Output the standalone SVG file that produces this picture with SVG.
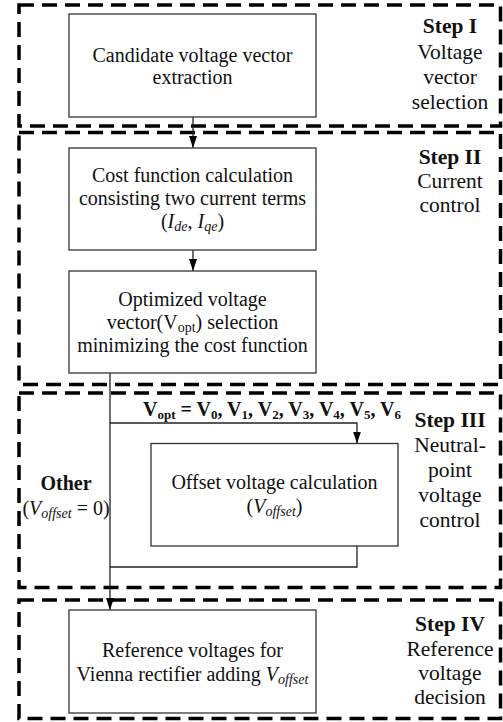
<svg xmlns="http://www.w3.org/2000/svg" width="503" height="722" viewBox="0 0 503 722">
<defs>
<style>
.step{fill:none;stroke:#000;stroke-width:3.5;stroke-dasharray:15 8}
.box{fill:#fff;stroke:#333;stroke-width:1.3}
.t{font-family:"Liberation Serif","Times New Roman",serif;font-size:20px;fill:#111;text-anchor:middle}
.lb{font-family:"Liberation Serif","Times New Roman",serif;font-size:21.5px;fill:#111;text-anchor:middle}
.b{font-weight:bold}
.i{font-style:italic}
.c{fill:none;stroke:#222;stroke-width:1.3}
</style>
<marker id="ah" viewBox="0 0 12 8" refX="12" refY="4" markerWidth="12" markerHeight="8" markerUnits="userSpaceOnUse" orient="auto">
<path d="M0,0 L12,4 L0,8 Z" fill="#000"/>
</marker>
</defs>

<g id="regions">
<rect id="step1" class="step" x="19" y="5" width="481.5" height="121"/>
<rect id="step2" class="step" x="19" y="132.5" width="481.5" height="252"/>
<rect id="step3" class="step" x="19" y="393" width="481.5" height="194.5"/>
<rect id="step4" class="step" x="19" y="600" width="481.5" height="118.5"/>
</g>

<g id="connectors">
<line class="c" x1="193" y1="117" x2="193" y2="148" marker-end="url(#ah)"/>
<line class="c" x1="193" y1="250" x2="193" y2="271" marker-end="url(#ah)"/>
<line class="c" x1="110" y1="373" x2="110" y2="610" marker-end="url(#ah)"/>
<polyline class="c" points="110,423 357,423 357,443.5" marker-end="url(#ah)"/>
<polyline class="c" points="357,546 357,567 110,567"/>
</g>

<g id="n1">
<rect class="box" x="69" y="14" width="247" height="103"/>
<text class="t" x="192.5" y="62">Candidate voltage vector</text>
<text class="t" x="192.5" y="84">extraction</text>
</g>

<g id="n2">
<rect class="box" x="69" y="148" width="247" height="102"/>
<text class="t" x="192.5" y="182">Cost function calculation</text>
<text class="t" x="192.5" y="205">consisting two current terms</text>
<text class="t" x="192.5" y="228">(<tspan class="i">I</tspan><tspan class="i" font-size="14" dy="3">de</tspan><tspan dy="-3">, </tspan><tspan class="i">I</tspan><tspan class="i" font-size="14" dy="3">qe</tspan><tspan dy="-3">)</tspan></text>
</g>

<g id="n3">
<rect class="box" x="69" y="271" width="247" height="102"/>
<text class="t" x="192.5" y="306">Optimized voltage</text>
<text class="t" x="192.5" y="329">vector(V<tspan font-size="14" dy="3">opt</tspan><tspan dy="-3">) selection</tspan></text>
<text class="t" x="192.5" y="352">minimizing the cost function</text>
</g>

<g id="n4">
<rect class="box" x="151" y="443.5" width="247" height="102.5"/>
<text class="t" x="274.5" y="489">Offset voltage calculation</text>
<text class="t" x="274.5" y="513">(<tspan class="i">V</tspan><tspan class="i" font-size="14" dy="3">offset</tspan><tspan dy="-3">)</tspan></text>
</g>

<g id="n5">
<rect class="box" x="69" y="610" width="247" height="103"/>
<text class="t" x="192.5" y="657">Reference voltages for</text>
<text class="t" x="192.5" y="681">Vienna rectifier adding <tspan class="i">V</tspan><tspan class="i" font-size="14" dy="3">offset</tspan></text>
</g>

<g id="edge-labels">
<text class="t b" x="272" y="416" font-size="19">V<tspan font-size="13" dy="3">opt</tspan><tspan dy="-3"> = V</tspan><tspan font-size="13" dy="3">0</tspan><tspan dy="-3">, V</tspan><tspan font-size="13" dy="3">1</tspan><tspan dy="-3">, V</tspan><tspan font-size="13" dy="3">2</tspan><tspan dy="-3">, V</tspan><tspan font-size="13" dy="3">3</tspan><tspan dy="-3">, V</tspan><tspan font-size="13" dy="3">4</tspan><tspan dy="-3">, V</tspan><tspan font-size="13" dy="3">5</tspan><tspan dy="-3">, V</tspan><tspan font-size="13" dy="3">6</tspan></text>
<text class="t b" x="66" y="490" font-size="19">Other</text>
<text class="t" x="66" y="515">(<tspan class="i">V</tspan><tspan class="i" font-size="14" dy="3">offset</tspan><tspan dy="-3"> = 0)</tspan></text>
</g>

<g id="step-labels">
<text class="lb b" x="450" y="33">Step I</text>
<text class="lb" x="450" y="59">Voltage</text>
<text class="lb" x="450" y="84">vector</text>
<text class="lb" x="450" y="109">selection</text>
<text class="lb b" x="450" y="164">Step II</text>
<text class="lb" x="450" y="188">Current</text>
<text class="lb" x="450" y="212">control</text>
<text class="lb b" x="450" y="427">Step III</text>
<text class="lb" x="450" y="452">Neutral-</text>
<text class="lb" x="450" y="477">point</text>
<text class="lb" x="450" y="502">voltage</text>
<text class="lb" x="450" y="527">control</text>
<text class="lb b" x="450" y="631">Step IV</text>
<text class="lb" x="450" y="656">Reference</text>
<text class="lb" x="450" y="680">voltage</text>
<text class="lb" x="450" y="704">decision</text>
</g>
</svg>
